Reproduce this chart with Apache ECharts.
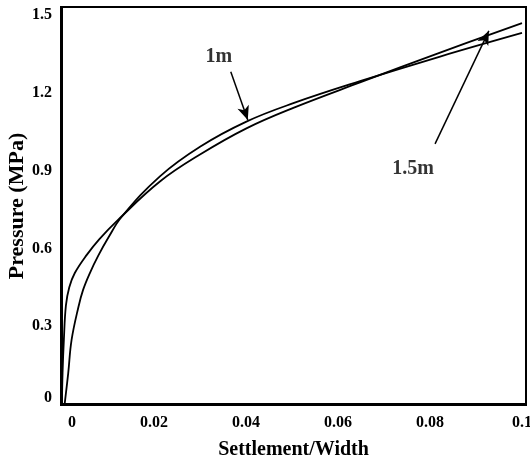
<!DOCTYPE html>
<html>
<head>
<meta charset="utf-8">
<script src="https://cdn.jsdelivr.net/npm/echarts@6/dist/echarts.min.js"></script>
<style>html,body{margin:0;padding:0;background:#fff}#c{width:530px;height:469px}</style>
</head>
<body>
<div id="c"></div>
<script>
// Settlement/Width vs Pressure (MPa)
var curve15m = [
  [0, 0], [0.00014, 0.12], [0.00043, 0.25], [0.00087, 0.38], [0.0016, 0.45],
  [0.0028, 0.505], [0.0054, 0.575], [0.0081, 0.635], [0.0122, 0.71], [0.0213, 0.858],
  [0.0301, 0.963], [0.0401, 1.063], [0.0503, 1.142], [0.0648, 1.24], [0.0822, 1.355], [0.1, 1.469]
];
var curve1m = [
  [0.0006, 0], [0.00137, 0.119], [0.0021, 0.247], [0.0036, 0.375], [0.0046, 0.44],
  [0.0061, 0.506], [0.0079, 0.572], [0.0101, 0.642], [0.013, 0.722], [0.0213, 0.878],
  [0.0301, 0.993], [0.0401, 1.089], [0.0503, 1.16], [0.0648, 1.245], [0.0822, 1.34], [0.1, 1.431]
];
var xTicks = [0, 0.02, 0.04, 0.06, 0.08, 0.1];
var yTicks = [0, 0.3, 0.6, 0.9, 1.2, 1.5];
// annotation arrows: [start, tip]
var arrow1m = [[0.0367, 1.281], [0.0404, 1.095]];
var arrow15m = [[0.0811, 1.003], [0.0928, 1.439]];
var annotations = [[0.0341, 1.338, '1m'], [0.0763, 0.906, '1.5m']];

var FONT = '"Liberation Serif", "Times New Roman", serif';
var chart = echarts.init(document.getElementById('c'));
chart.setOption({
  animation: false,
  backgroundColor: '#fff',
  grid: { left: 61, top: 7, right: 4, bottom: 64, show: true, borderColor: '#000', borderWidth: 2,
          containLabel: false, outerBoundsMode: 'none' },
  xAxis: {
    type: 'value', min: -0.0002, max: 0.10087,
    name: 'Settlement/Width', nameLocation: 'middle', nameGap: 35,
    nameTextStyle: { fontFamily: FONT, fontWeight: 'bold', fontSize: 20, color: '#000' },
    axisLine: { show: true, lineStyle: { color: '#000', width: 2 } },
    axisTick: { show: false },
    splitLine: { show: false },
    axisLabel: {
      customValues: xTicks, margin: 10,
      fontFamily: FONT, fontWeight: 'bold', fontSize: 16, color: '#000',
      formatter: function (v) { return v === 0 ? '{z|0}' : String(+v.toFixed(2)); },
      rich: { z: { padding: [0, 0, 0, 20], fontFamily: FONT, fontWeight: 'bold', fontSize: 16, color: '#000' } }
    }
  },
  yAxis: {
    type: 'value', min: -0.004, max: 1.531,
    name: 'Pressure (MPa)', nameLocation: 'middle', nameGap: 33, nameRotate: 90,
    nameMoveOverlap: false,
    nameTextStyle: { fontFamily: FONT, fontWeight: 'bold', fontSize: 22, color: '#000' },
    axisLine: { show: true, lineStyle: { color: '#000', width: 2 } },
    axisTick: { show: false },
    splitLine: { show: false },
    axisLabel: {
      customValues: yTicks, margin: 9,
      fontFamily: FONT, fontWeight: 'bold', fontSize: 16, color: '#000',
      formatter: function (v) { return v === 0 ? '{z|0}' : String(+v.toFixed(1)); },
      rich: { z: { padding: [0, 0, 12, 0], fontFamily: FONT, fontWeight: 'bold', fontSize: 16, color: '#000' } }
    }
  },
  series: [
    {
      name: '1.5m', type: 'line', data: curve15m, smooth: 0.4, symbol: 'none',
      lineStyle: { color: '#000', width: 1.8 },
      markLine: {
        silent: true, symbol: ['none', 'arrow'], symbolSize: [9, 14],
        lineStyle: { color: '#000', width: 1.5, type: 'solid' }, label: { show: false },
        data: [
          [{ coord: arrow1m[0] }, { coord: arrow1m[1] }],
          [{ coord: arrow15m[0] }, { coord: arrow15m[1] }]
        ]
      }
    },
    {
      name: '1m', type: 'line', data: curve1m, smooth: 0.4, symbol: 'none',
      lineStyle: { color: '#000', width: 1.8 }
    },
    {
      name: 'labels', type: 'scatter', data: annotations, symbolSize: 0, silent: true,
      label: {
        show: true, position: 'inside', color: '#000',
        fontFamily: FONT, fontWeight: 'bold', fontSize: 20,
        formatter: function (p) { return p.data[2]; }
      }
    }
  ]
});
</script>
</body>
</html>
